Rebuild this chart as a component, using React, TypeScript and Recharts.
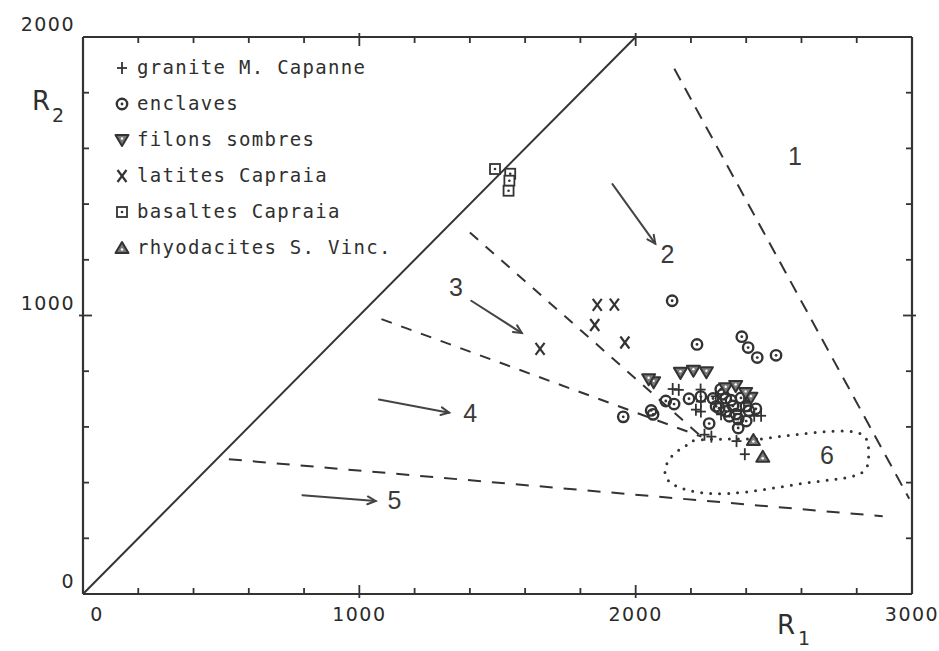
import React from 'react';
import { ComposedChart, XAxis, YAxis, Scatter, ReferenceLine } from 'recharts';

const INK = '#333333';
const TEXT_FONT = '"DejaVu Sans", sans-serif';
const MONO_FONT = '"DejaVu Sans Mono", monospace';

type Pt = { x: number; y: number };

// ---------- data (R1, R2 in millications) ----------
const graniteMCapanne: Pt[] = [
  { x: 2134, y: 736 }, { x: 2156, y: 733 }, { x: 2235, y: 734 }, { x: 2236, y: 691 },
  { x: 2236, y: 655 }, { x: 2218, y: 662 }, { x: 2429, y: 640 }, { x: 2454, y: 640 },
  { x: 2392, y: 686 }, { x: 2395, y: 502 }, { x: 2365, y: 549 }, { x: 2249, y: 572 },
  { x: 2274, y: 565 }, { x: 2290, y: 710 }, { x: 2309, y: 645 }, { x: 2381, y: 657 },
];
const enclaves: Pt[] = [
  { x: 2132, y: 1053 }, { x: 2222, y: 896 }, { x: 2384, y: 924 }, { x: 2407, y: 885 },
  { x: 2440, y: 849 }, { x: 2508, y: 857 }, { x: 1955, y: 636 }, { x: 2056, y: 659 },
  { x: 2063, y: 645 }, { x: 2139, y: 682 }, { x: 2193, y: 701 }, { x: 2109, y: 693 },
  { x: 2266, y: 612 }, { x: 2308, y: 735 }, { x: 2371, y: 628 }, { x: 2371, y: 596 },
  { x: 2291, y: 674 }, { x: 2326, y: 703 }, { x: 2352, y: 675 }, { x: 2399, y: 675 },
  { x: 2327, y: 656 }, { x: 2236, y: 709 }, { x: 2280, y: 702 }, { x: 2315, y: 717 },
  { x: 2345, y: 696 }, { x: 2381, y: 704 }, { x: 2410, y: 658 }, { x: 2435, y: 665 },
  { x: 2302, y: 667 }, { x: 2339, y: 638 }, { x: 2400, y: 621 }, { x: 2363, y: 646 },
];
const filonsSombres: Pt[] = [
  { x: 2065, y: 760 }, { x: 2047, y: 771 }, { x: 2162, y: 794 }, { x: 2209, y: 802 },
  { x: 2256, y: 796 }, { x: 2326, y: 739 }, { x: 2362, y: 747 }, { x: 2417, y: 705 },
  { x: 2398, y: 722 },
];
const latitesCapraia: Pt[] = [
  { x: 1861, y: 1038 }, { x: 1923, y: 1039 }, { x: 1852, y: 966 }, { x: 1961, y: 903 },
  { x: 1654, y: 880 },
];
const basaltesCapraia: Pt[] = [
  { x: 1491, y: 1526 }, { x: 1546, y: 1509 }, { x: 1543, y: 1484 }, { x: 1540, y: 1448 },
];
const rhyodacitesSVinc: Pt[] = [
  { x: 2426, y: 553 }, { x: 2460, y: 493 },
];

// field boundaries
const diagonalLine: Pt[] = [{ x: 0, y: 0 }, { x: 2000, y: 2000 }];
const boundary1: Pt[] = [{ x: 2140, y: 1886 }, { x: 2990, y: 342 }];
const boundary23: Pt[] = [{ x: 1400, y: 1298 }, { x: 2238, y: 565 }];
const boundary34: Pt[] = [{ x: 1080, y: 987 }, { x: 2238, y: 565 }];
const boundary5: Pt[] = [{ x: 528, y: 484 }, { x: 2894, y: 279 }];
const field6: Pt[] = [
  { x: 2455, y: 557 }, { x: 2672, y: 582 }, { x: 2817, y: 574 }, { x: 2843, y: 502 },
  { x: 2808, y: 430 }, { x: 2613, y: 398 }, { x: 2339, y: 361 }, { x: 2158, y: 383 },
  { x: 2106, y: 437 }, { x: 2138, y: 502 }, { x: 2192, y: 539 }, { x: 2238, y: 554 },
  { x: 2455, y: 557 },
];
const arrows: Pt[][] = [
  [{ x: 1916, y: 1472 }, { x: 2071, y: 1258 }],
  [{ x: 1405, y: 1053 }, { x: 1588, y: 937 }],
  [{ x: 1071, y: 698 }, { x: 1325, y: 651 }],
  [{ x: 794, y: 355 }, { x: 1059, y: 334 }],
];
const fieldLabels = [
  { x: 2576, y: 1572, label: '1' },
  { x: 2115, y: 1222, label: '2' },
  { x: 1350, y: 1102, label: '3' },
  { x: 1401, y: 649, label: '4' },
  { x: 1127, y: 338, label: '5' },
  { x: 2692, y: 500, label: '6' },
];

const xTicks = [0, 200, 400, 600, 800, 1000, 1200, 1400, 1600, 1800, 2000, 2200, 2400, 2600, 2800, 3000];
const yTicks = [0, 200, 400, 600, 800, 1000, 1200, 1400, 1600, 1800, 2000];
const xTickLabels = [0, 1000, 2000, 3000];
const yTickLabels = [0, 1000, 2000];

const legendLabels = [
  'granite M. Capanne',
  'enclaves',
  'filons sombres',
  'latites Capraia',
  'basaltes Capraia',
  'rhyodacites S. Vinc.',
];

// ---------- symbols ----------
const PlusSym = ({ cx, cy }: any) => (
  <g stroke={INK} strokeWidth={1.8}>
    <line x1={cx - 5} x2={cx + 5} y1={cy} y2={cy} />
    <line x1={cx} x2={cx} y1={cy - 6} y2={cy + 6} />
  </g>
);
const CircleSym = ({ cx, cy }: any) => (
  <g>
    <circle cx={cx} cy={cy} r={5.2} fill="none" stroke={INK} strokeWidth={2.4} />
    <circle cx={cx} cy={cy} r={1.4} fill={INK} />
  </g>
);
const DownTriSym = ({ cx, cy }: any) => (
  <g>
    <polygon points={`${cx - 6.5},${cy - 5} ${cx + 6.5},${cy - 5} ${cx},${cy + 6}`} fill="#7a7a7a" stroke={INK} strokeWidth={2} strokeLinejoin="round" />
    <circle cx={cx} cy={cy - 1.5} r={1.2} fill="#fff" />
  </g>
);
const XSym = ({ cx, cy }: any) => (
  <g stroke={INK} strokeWidth={2.2}>
    <line x1={cx - 4.5} x2={cx + 4.5} y1={cy - 6} y2={cy + 6} />
    <line x1={cx + 4.5} x2={cx - 4.5} y1={cy - 6} y2={cy + 6} />
  </g>
);
const SquareSym = ({ cx, cy }: any) => (
  <g>
    <rect x={cx - 5} y={cy - 5} width={10} height={10} fill="#fff" stroke={INK} strokeWidth={1.8} />
    <circle cx={cx} cy={cy} r={1.3} fill={INK} />
  </g>
);
const UpTriSym = ({ cx, cy }: any) => (
  <g>
    <polygon points={`${cx},${cy - 6} ${cx - 6.5},${cy + 5} ${cx + 6.5},${cy + 5}`} fill="#7a7a7a" stroke={INK} strokeWidth={2} strokeLinejoin="round" />
    <circle cx={cx} cy={cy + 1.5} r={1.2} fill="#fff" />
  </g>
);
const legendSymbols = [PlusSym, CircleSym, DownTriSym, XSym, SquareSym, UpTriSym];

const NoShape = () => <g />;
const FieldLabelShape = (p: any) => (
  <text x={p.cx} y={p.cy} textAnchor="middle" dominantBaseline="central" fontFamily='"Liberation Sans", sans-serif' fontSize={25} fill="#3a3a3a">
    {p.payload?.label}
  </text>
);

const ArrowShape = (p: any) => {
  const { x1, y1, x2, y2 } = p;
  const ang = Math.atan2(y2 - y1, x2 - x1);
  const L = 9;
  const a1 = ang + Math.PI - 0.45;
  const a2 = ang + Math.PI + 0.45;
  return (
    <g stroke="#444" strokeWidth={2} fill="none" strokeLinecap="round">
      <line x1={x1} y1={y1} x2={x2} y2={y2} />
      <polyline points={`${x2 + L * Math.cos(a1)},${y2 + L * Math.sin(a1)} ${x2},${y2} ${x2 + L * Math.cos(a2)},${y2 + L * Math.sin(a2)}`} />
    </g>
  );
};

// ---------- ticks ----------
const tickTextProps = { fontFamily: TEXT_FONT, fontSize: 19, letterSpacing: 1.5, fill: '#2a2a2a' };

const BottomTick = (props: any) => {
  const { x, y, payload } = props;
  const v = Number(payload?.value);
  const major = xTickLabels.includes(v);
  return (
    <g>
      {v !== 0 && v !== 3000 && (
        <line x1={x} x2={x} y1={major ? y + 4 : y} y2={y - (major ? 9 : 6)} stroke={INK} strokeWidth={1.8} />
      )}
      {major && (
        <text x={x + (v === 0 ? 14 : 0)} y={y + 27} textAnchor="middle" {...tickTextProps}>{v}</text>
      )}
    </g>
  );
};
const TopTick = (props: any) => {
  const { x, y, payload } = props;
  const v = Number(payload?.value);
  const major = xTickLabels.includes(v);
  if (v === 0 || v === 3000) return <g />;
  return <line x1={x} x2={x} y1={major ? y - 4 : y} y2={y + (major ? 9 : 6)} stroke={INK} strokeWidth={1.8} />;
};
const LeftTick = (props: any) => {
  const { x, y, payload } = props;
  const v = Number(payload?.value);
  const major = yTickLabels.includes(v);
  return (
    <g>
      {v !== 0 && v !== 2000 && (
        <line x1={major ? x - 4 : x} x2={x + (major ? 9 : 6)} y1={y} y2={y} stroke={INK} strokeWidth={1.8} />
      )}
      {major && (
        <text x={x - 8} y={y - 6} textAnchor="end" {...tickTextProps}>{v}</text>
      )}
    </g>
  );
};
const RightTick = (props: any) => {
  const { x, y, payload } = props;
  const v = Number(payload?.value);
  const major = yTickLabels.includes(v);
  if (v === 0 || v === 2000) return <g />;
  return <line x1={major ? x + 4 : x} x2={x - (major ? 9 : 6)} y1={y} y2={y} stroke={INK} strokeWidth={1.8} />;
};

const axisLine = { stroke: INK, strokeWidth: 2.2 };

export default function App() {
  return (
    <div style={{ position: 'absolute', left: 0, top: 0, width: 939, height: 651, background: '#fff' }}>
      <ComposedChart width={939} height={651} margin={{ top: 36, right: 26, bottom: 56, left: 82 }}>
        <XAxis type="number" dataKey="x" domain={[0, 3000]} ticks={xTicks} interval={0} height={1}
          tickSize={0} tickMargin={0} tickLine={false} axisLine={axisLine} tick={<BottomTick />} allowDataOverflow />
        <XAxis xAxisId="top" orientation="top" type="number" dataKey="x" domain={[0, 3000]} ticks={xTicks} interval={0} height={1}
          tickSize={0} tickMargin={0} tickLine={false} axisLine={axisLine} tick={<TopTick />} allowDataOverflow />
        <YAxis type="number" dataKey="y" domain={[0, 2000]} ticks={yTicks} interval={0} width={1}
          tickSize={0} tickMargin={0} tickLine={false} axisLine={axisLine} tick={<LeftTick />} allowDataOverflow />
        <YAxis yAxisId="right" orientation="right" type="number" dataKey="y" domain={[0, 2000]} ticks={yTicks} interval={0} width={1}
          tickSize={0} tickMargin={0} tickLine={false} axisLine={axisLine} tick={<RightTick />} allowDataOverflow />

        <ReferenceLine segment={diagonalLine} stroke={INK} strokeWidth={2} />
        <ReferenceLine segment={boundary1} stroke={INK} strokeWidth={2} strokeDasharray="13 9" />
        <ReferenceLine segment={boundary23} stroke={INK} strokeWidth={2} strokeDasharray="11 10" />
        <ReferenceLine segment={boundary34} stroke={INK} strokeWidth={2} strokeDasharray="11 10" />
        <ReferenceLine segment={boundary5} stroke={INK} strokeWidth={2} strokeDasharray="13 11" />
        {arrows.map((seg, i) => (
          <ReferenceLine key={`arrow-${i}`} segment={seg} shape={ArrowShape} />
        ))}

        <Scatter data={field6} isAnimationActive={false} shape={NoShape} line={{ stroke: INK, strokeWidth: 3, strokeDasharray: '0 9', strokeLinecap: 'round' }} lineType="joint" lineJointType="natural" />

        <Scatter name="granite M. Capanne" data={graniteMCapanne} isAnimationActive={false} shape={(p: any) => <PlusSym cx={p.cx} cy={p.cy} />} />
        <Scatter name="enclaves" data={enclaves} isAnimationActive={false} shape={(p: any) => <CircleSym cx={p.cx} cy={p.cy} />} />
        <Scatter name="filons sombres" data={filonsSombres} isAnimationActive={false} shape={(p: any) => <DownTriSym cx={p.cx} cy={p.cy} />} />
        <Scatter name="latites Capraia" data={latitesCapraia} isAnimationActive={false} shape={(p: any) => <XSym cx={p.cx} cy={p.cy} />} />
        <Scatter name="basaltes Capraia" data={basaltesCapraia} isAnimationActive={false} shape={(p: any) => <SquareSym cx={p.cx} cy={p.cy} />} />
        <Scatter name="rhyodacites S. Vinc." data={rhyodacitesSVinc} isAnimationActive={false} shape={(p: any) => <UpTriSym cx={p.cx} cy={p.cy} />} />

        <Scatter data={fieldLabels} isAnimationActive={false} shape={FieldLabelShape} />
      </ComposedChart>

      <svg width={939} height={651} style={{ position: 'absolute', left: 0, top: 0, pointerEvents: 'none' }}>
        {/* axis titles */}
        <text x={32} y={110} fontFamily={TEXT_FONT} fontSize={26} fill="#2f2f2f">R</text>
        <text x={52} y={122} fontFamily={TEXT_FONT} fontSize={19} fill="#2f2f2f">2</text>
        <text x={777} y={634} fontFamily={TEXT_FONT} fontSize={26} fill="#2f2f2f">R</text>
        <text x={798} y={645} fontFamily={TEXT_FONT} fontSize={19} fill="#2f2f2f">1</text>
        {/* legend */}
        {legendLabels.map((lab, i) => {
          const Sym = legendSymbols[i];
          const cy = 68 + i * 36;
          return (
            <g key={lab}>
              <Sym cx={122} cy={cy} />
              <text x={137} y={cy + 6} fontFamily={MONO_FONT} fontSize={19} letterSpacing={1.3} fill="#2f2f2f">{lab}</text>
            </g>
          );
        })}
      </svg>
    </div>
  );
}
